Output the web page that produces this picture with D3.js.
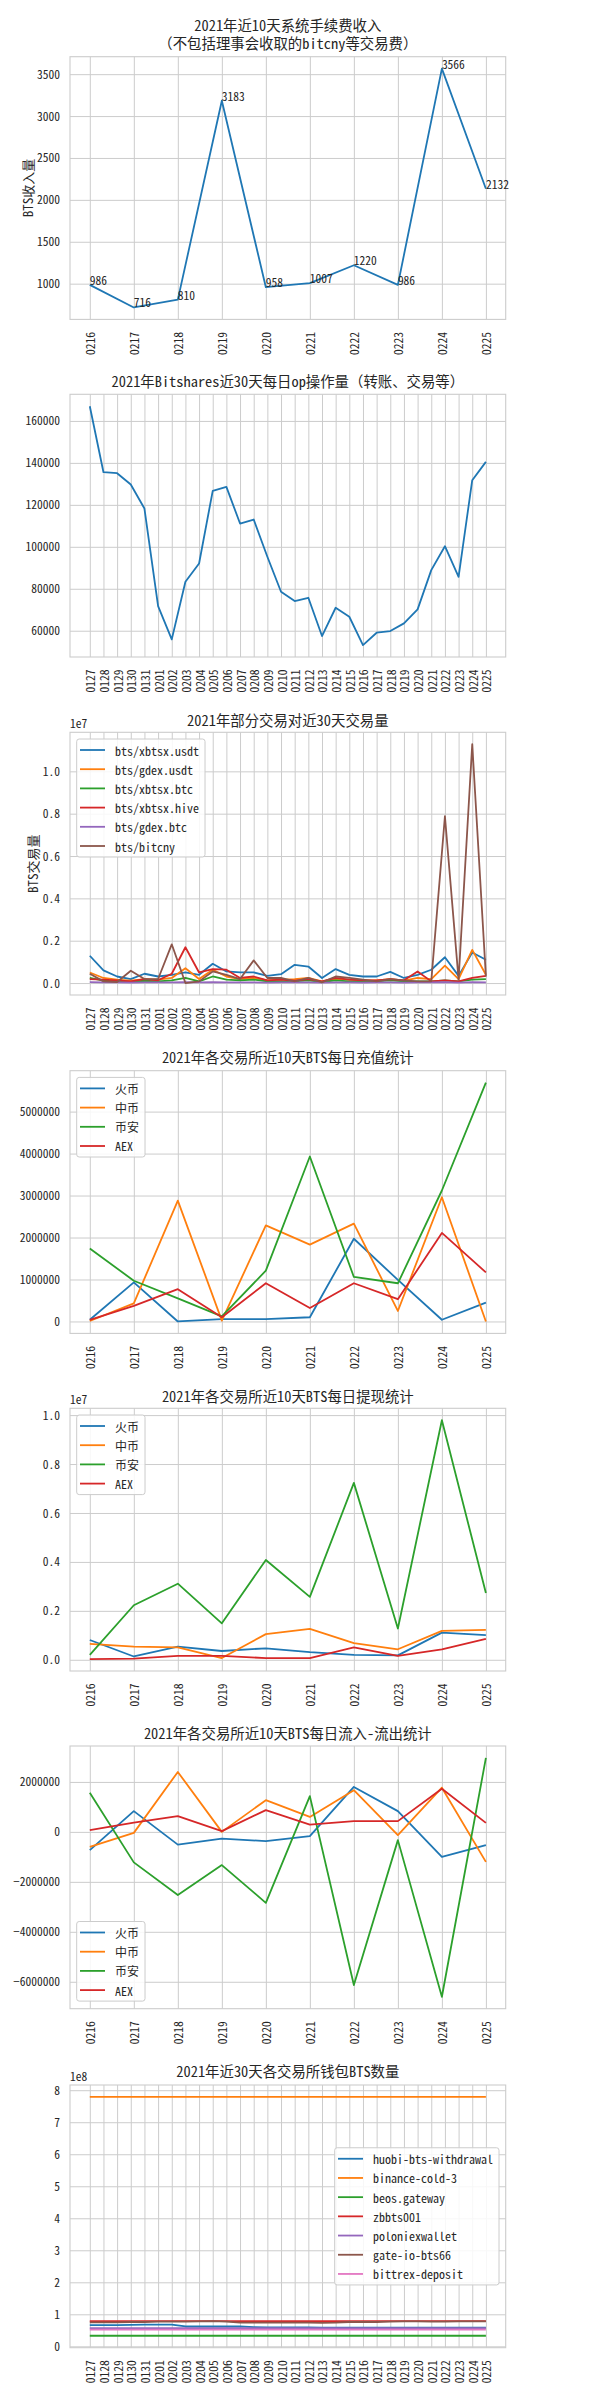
<!DOCTYPE html>
<html><head><meta charset="utf-8">
<script src="https://cdn.jsdelivr.net/npm/d3@7"></script>
<style>
body{margin:0;background:#fff;}
svg text{font-family:"Noto Sans Mono CJK SC","Noto Sans CJK SC",sans-serif;fill:#262626;}
</style></head><body>
<svg id="c" width="600" height="2400"></svg>
<script>
// ---------- data ----------
const days10 = ["0216","0217","0218","0219","0220","0221","0222","0223","0224","0225"];
const days30 = ["0127","0128","0129","0130","0131","0201","0202","0203","0204","0205","0206","0207","0208","0209","0210",
  "0211","0212","0213","0214","0215","0216","0217","0218","0219","0220","0221","0222","0223","0224","0225"];

// panel 1: fee income (BTS)
const feeIncome = [986,716,810,3183,958,1007,1220,986,3566,2132];

// panel 2: daily op count
const dailyOps = [167000,135560,135080,129700,118250,71750,55870,83330,92060,126670,128570,111100,113000,95240,78570,
  74130,75710,57460,70950,66670,53170,59050,59840,63490,70160,88890,100300,85710,131750,140480];

// panel 3: pair volumes (units of 1e7 BTS)
const pairNames = ["bts/xbtsx.usdt","bts/gdex.usdt","bts/xbtsx.btc","bts/xbtsx.hive","bts/gdex.btc","bts/bitcny"];
const volXbtsxUsdt = [0.129,0.060,0.031,0.019,0.044,0.031,0.039,0.050,0.039,0.091,0.055,0.050,0.050,0.034,0.042,0.086,0.078,0.024,0.066,0.039,0.031,0.031,0.053,0.024,0.039,0.063,0.122,0.034,0.144,0.110];
const volGdexUsdt   = [0.050,0.024,0.016,0.011,0.019,0.016,0.024,0.070,0.019,0.063,0.031,0.019,0.024,0.013,0.016,0.019,0.024,0.008,0.019,0.016,0.013,0.013,0.019,0.011,0.024,0.019,0.082,0.019,0.157,0.039];
const volXbtsxBtc   = [0.024,0.011,0.008,0.005,0.011,0.008,0.013,0.024,0.008,0.031,0.016,0.013,0.016,0.008,0.008,0.008,0.013,0.005,0.013,0.008,0.008,0.008,0.013,0.008,0.008,0.008,0.013,0.008,0.016,0.019];
const volXbtsxHive  = [0.019,0.016,0.013,0.008,0.019,0.013,0.044,0.169,0.050,0.066,0.063,0.024,0.031,0.013,0.016,0.011,0.019,0.008,0.024,0.016,0.013,0.013,0.019,0.013,0.055,0.008,0.013,0.008,0.024,0.034];
const volGdexBtc    = [0.004,0.003,0.003,0.002,0.003,0.003,0.003,0.004,0.003,0.004,0.003,0.003,0.003,0.002,0.003,0.003,0.003,0.002,0.003,0.003,0.002,0.003,0.003,0.002,0.003,0.003,0.004,0.002,0.004,0.003];
const volBitcny     = [0.044,0.008,0.005,0.058,0.019,0.019,0.183,0.000,0.008,0.055,0.039,0.019,0.107,0.024,0.024,0.008,0.024,0.003,0.031,0.024,0.016,0.008,0.019,0.013,0.008,0.008,0.788,0.016,1.128,0.031];

// panels 4-6: exchanges
const exchNames = ["火币","中币","币安","AEX"];
const depHuobi   = [40000,930000,0,55000,55000,100000,1970000,990000,40000,450000];
const depZb      = [10000,430000,2880000,20000,2290000,1830000,2330000,250000,2960000,0];
const depBinance = [1740000,970000,550000,120000,1210000,3930000,1060000,910000,3120000,5690000];
const depAex     = [40000,370000,770000,100000,910000,320000,910000,530000,2110000,1170000];

// withdrawals (units of 1e7 BTS)
const wdHuobi   = [0.081,0.0135,0.054,0.036,0.047,0.031,0.020,0.018,0.111,0.101];
const wdZb      = [0.065,0.054,0.051,0.007,0.105,0.126,0.068,0.043,0.118,0.122];
const wdBinance = [0.020,0.223,0.311,0.149,0.408,0.257,0.723,0.128,0.979,0.273];
const wdAex     = [0.003,0.005,0.016,0.016,0.007,0.007,0.051,0.016,0.043,0.085];

// net flow
const netHuobi   = [-730000,830000,-510000,-270000,-370000,-170000,1800000,830000,-1000000,-530000];
const netZb      = [-600000,-40000,2400000,0,1270000,600000,1670000,-130000,1770000,-1200000];
const netBinance = [1570000,-1220000,-2530000,-1330000,-2840000,1430000,-6130000,-330000,-6600000,2960000];
const netAex     = [70000,370000,630000,30000,870000,290000,430000,430000,1730000,360000];

// panel 7: wallets (units of 1e8 BTS)
const walletNames = ["huobi-bts-withdrawal","binance-cold-3","beos.gateway","zbbts001","poloniexwallet","gate-io-bts66","bittrex-deposit"];
const wHuobi   = [0.66,0.66,0.66,0.67,0.68,0.68,0.68,0.62,0.62,0.62,0.62,0.62,0.60,0.59,0.59,0.59,0.59,0.58,0.58,0.58,0.58,0.58,0.58,0.58,0.58,0.58,0.58,0.58,0.58,0.58];
const wBinance = [7.79,7.79,7.79,7.79,7.79,7.79,7.79,7.79,7.79,7.79,7.79,7.79,7.79,7.79,7.79,7.79,7.79,7.79,7.79,7.79,7.79,7.79,7.79,7.79,7.79,7.79,7.79,7.79,7.79,7.79];
const wBeos    = [0.33,0.33,0.33,0.33,0.33,0.33,0.33,0.33,0.33,0.33,0.33,0.33,0.33,0.33,0.33,0.33,0.33,0.33,0.33,0.33,0.33,0.33,0.33,0.33,0.33,0.33,0.33,0.33,0.33,0.33];
const wZb      = [0.79,0.79,0.79,0.79,0.79,0.79,0.79,0.79,0.79,0.79,0.79,0.79,0.79,0.79,0.79,0.79,0.79,0.79,0.79,0.79,0.79,0.79,0.79,0.79,0.79,0.79,0.79,0.79,0.79,0.79];
const wPolo    = [0.57,0.57,0.57,0.57,0.57,0.57,0.57,0.57,0.57,0.57,0.57,0.57,0.57,0.57,0.57,0.57,0.57,0.57,0.57,0.57,0.57,0.57,0.57,0.57,0.57,0.57,0.57,0.57,0.57,0.57];
const wGate    = [0.75,0.75,0.75,0.76,0.76,0.77,0.77,0.77,0.78,0.79,0.77,0.74,0.74,0.74,0.74,0.74,0.74,0.73,0.74,0.76,0.76,0.76,0.77,0.78,0.78,0.77,0.77,0.78,0.78,0.78];
const wBittrex = [0.52,0.52,0.52,0.52,0.52,0.52,0.52,0.52,0.52,0.52,0.52,0.52,0.52,0.52,0.52,0.52,0.52,0.52,0.52,0.52,0.52,0.52,0.52,0.52,0.52,0.52,0.52,0.52,0.52,0.52];

const palette = ["#1f77b4","#ff7f0e","#2ca02c","#d62728","#9467bd","#8c564b","#e377c2"];

// ---------- drawing ----------
const svg = d3.select("#c");
const X0 = 70, X1 = 505.7, PH = 262.7;
const GRID = "#cccccc";

function panel(o){
  const top = o.top, bottom = top + PH;
  const n = o.cats.length;
  const x = d3.scaleLinear().domain([-0.05*(n-1), (n-1)*1.05]).range([X0, X1]);
  const all = o.series.flatMap(s => s.values);
  const mn = d3.min(all), mx = d3.max(all), pad = 0.05*(mx-mn);
  const y = d3.scaleLinear().domain([mn-pad, mx+pad]).range([bottom, top]);
  const g = svg.append("g");

  // grid
  const xAxis = d3.axisBottom(x).tickValues(d3.range(n)).tickSize(-(bottom-top)).tickFormat(i => o.cats[i]);
  const gx = g.append("g").attr("transform", `translate(0,${bottom})`).call(xAxis);
  gx.select(".domain").remove();
  gx.selectAll(".tick line").attr("stroke", GRID).attr("stroke-width", 1);
  gx.selectAll(".tick text")
    .attr("font-size", 11.5).attr("fill", "#262626")
    .attr("text-anchor", "end").attr("dominant-baseline", "central")
    .attr("y", 0).attr("dy", null)
    .attr("transform", "translate(0,12.5) rotate(-90)");

  const yAxis = d3.axisLeft(y).tickValues(o.ticks).tickSize(-(X1-X0)).tickPadding(10).tickFormat(o.fmt);
  const gy = g.append("g").attr("transform", `translate(${X0},0)`).call(yAxis);
  gy.select(".domain").remove();
  gy.selectAll(".tick line").attr("stroke", GRID).attr("stroke-width", 1);
  gy.selectAll(".tick text").attr("font-size", 11.5).attr("fill", "#262626").attr("x", -10).attr("dy", "0.35em");

  g.append("rect").attr("x", X0).attr("y", top).attr("width", X1-X0).attr("height", bottom-top)
    .attr("fill", "none").attr("stroke", GRID).attr("stroke-width", 1.1);

  // lines
  const line = d3.line().x((d,i) => x(i)).y(d => y(d));
  o.series.forEach(s => {
    g.append("path").datum(s.values).attr("d", line).attr("fill", "none")
      .attr("stroke", s.color).attr("stroke-width", 1.8).attr("stroke-linejoin", "round");
  });

  // point labels
  if (o.pointLabels){
    const s = o.series[0];
    s.values.forEach((v,i) => {
      g.append("text").attr("x", x(i)).attr("y", y(v)).attr("font-size", 11.5).text(v);
    });
  }

  // titles
  o.titles.forEach((t,k) => {
    g.append("text").attr("x", (X0+X1)/2).attr("y", o.titleY[k]).attr("text-anchor", "middle")
      .attr("dominant-baseline", "central").attr("font-size", 14.4).text(t);
  });

  if (o.ylabel){
    g.append("text").attr("transform", `translate(${o.ylabelX},${(top+bottom)/2}) rotate(-90)`)
      .attr("text-anchor", "middle").attr("dominant-baseline", "central").attr("font-size", 13).text(o.ylabel);
  }
  if (o.offset){
    g.append("text").attr("x", X0).attr("y", top - 9.3).attr("dominant-baseline", "central")
      .attr("font-size", 11.5).text(o.offset);
  }

  // legend
  if (o.legend){
    const L = o.legend, sp = 19.2, padV = 11;
    const h = padV*2 + sp*(o.series.length-1);
    const lg = g.append("g");
    const box = lg.append("rect").attr("rx", 2.5).attr("fill", "white").attr("fill-opacity", 0.85)
      .attr("stroke", GRID).attr("stroke-width", 1);
    const texts = [];
    o.series.forEach((s,k) => {
      const cy = padV + k*sp;
      lg.append("line").attr("x1", 3.3).attr("x2", 28.3).attr("y1", cy).attr("y2", cy)
        .attr("stroke", s.color).attr("stroke-width", 1.8);
      texts.push(lg.append("text").attr("x", 38.3).attr("y", cy).attr("dominant-baseline", "central")
        .attr("font-size", 12).text(s.name));
    });
    const tw = d3.max(texts, t => t.node().getComputedTextLength());
    const w = 38.3 + tw + 6;
    box.attr("width", w).attr("height", h);
    let lx, ly;
    if (L === "ul"){ lx = X0 + 6.7; ly = top + 6.7; }
    else if (L === "ll"){ lx = X0 + 6.7; ly = bottom - 7.6 - h; }
    else { lx = X1 - 6.7 - w; ly = (top+bottom)/2 - h/2; }
    lg.attr("transform", `translate(${lx},${ly})`);
  }
}

const fmtInt = d3.format("d");
const fmt1 = d3.format(".1f");
const minusFmt = v => (v < 0 ? "\u2212" : "") + Math.abs(v);

panel({top:56.7, cats:days10, series:[{name:"fee", values:feeIncome, color:palette[0]}],
  titles:["2021年近10天系统手续费收入","（不包括理事会收取的bitcny等交易费）"], titleY:[24,42.7],
  ticks:[1000,1500,2000,2500,3000,3500], fmt:fmtInt, ylabel:"BTS收入量", ylabelX:27, pointLabels:true});

panel({top:394.3, cats:days30, series:[{name:"ops", values:dailyOps, color:palette[0]}],
  titles:["2021年Bitshares近30天每日op操作量（转账、交易等）"], titleY:[380],
  ticks:[60000,80000,100000,120000,140000,160000], fmt:fmtInt});

const pairVals = [volXbtsxUsdt,volGdexUsdt,volXbtsxBtc,volXbtsxHive,volGdexBtc,volBitcny];
panel({top:732.3, cats:days30,
  series: pairNames.map((nm,k) => ({name:nm, values:pairVals[k], color:palette[k]})),
  titles:["2021年部分交易对近30天交易量"], titleY:[719.3],
  ticks:[0,0.2,0.4,0.6,0.8,1.0], fmt:fmt1, ylabel:"BTS交易量", ylabelX:32, offset:"1e7", legend:"ul"});

const depVals = [depHuobi,depZb,depBinance,depAex];
panel({top:1070.7, cats:days10,
  series: exchNames.map((nm,k) => ({name:nm, values:depVals[k], color:palette[k]})),
  titles:["2021年各交易所近10天BTS每日充值统计"], titleY:[1056.7],
  ticks:[0,1000000,2000000,3000000,4000000,5000000], fmt:fmtInt, legend:"ul"});

const wdVals = [wdHuobi,wdZb,wdBinance,wdAex];
panel({top:1408.3, cats:days10,
  series: exchNames.map((nm,k) => ({name:nm, values:wdVals[k], color:palette[k]})),
  titles:["2021年各交易所近10天BTS每日提现统计"], titleY:[1395],
  ticks:[0,0.2,0.4,0.6,0.8,1.0], fmt:fmt1, offset:"1e7", legend:"ul"});

const netVals = [netHuobi,netZb,netBinance,netAex];
panel({top:1746, cats:days10,
  series: exchNames.map((nm,k) => ({name:nm, values:netVals[k], color:palette[k]})),
  titles:["2021年各交易所近10天BTS每日流入-流出统计"], titleY:[1732.7],
  ticks:[-6000000,-4000000,-2000000,0,2000000], fmt:minusFmt, legend:"ll"});

const walletVals = [wHuobi,wBinance,wBeos,wZb,wPolo,wGate,wBittrex];
panel({top:2085, cats:days30,
  series: walletNames.map((nm,k) => ({name:nm, values:walletVals[k], color:palette[k]})),
  titles:["2021年近30天各交易所钱包BTS数量"], titleY:[2070],
  ticks:[0,1,2,3,4,5,6,7,8], fmt:fmtInt, offset:"1e8", legend:"cr"});
</script>
</body></html>
